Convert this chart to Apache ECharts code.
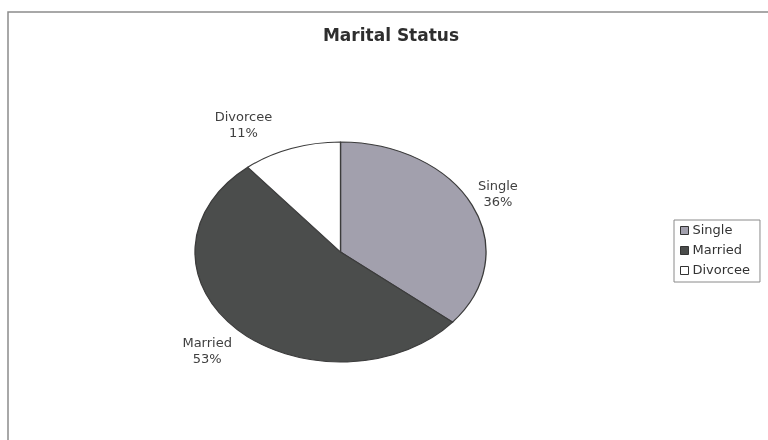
<!DOCTYPE html>
<html>
<head>
<meta charset="utf-8">
<script src="https://cdn.jsdelivr.net/npm/echarts@6/dist/echarts.min.js"></script>
<style>
  html, body { margin: 0; padding: 0; background: #ffffff; }
  #wrap { position: relative; width: 768px; height: 440px; overflow: hidden; background: #ffffff; }
  #pie, #overlay { position: absolute; left: 0; top: 0; width: 768px; height: 440px; }
  /* the pie is drawn as a circle and widened into an ellipse */
  #pie { transform: scaleX(1.3227); transform-origin: 340.5px 0; }
</style>
</head>
<body>
<div id="wrap">
  <div id="pie"></div>
  <div id="overlay"></div>
</div>
<script>
// Marital status shares (%)
const categories = ['Single', 'Married', 'Divorcee'];
const shares = [36, 53, 11];
const sliceColors = ['#a2a0ad', '#4b4d4c', '#ffffff'];

// geometry of the (stretched) pie
const CX = 340.5, CY = 252, R = 110, SX = 1.3227;
const LABEL_R = 134;
const labelNudgeX = [-3, -8, -37];
const labelNudgeY = [0, 5, 0];

const FONT = 'DejaVu Sans';

function seriesData() {
  return categories.map((name, i) => ({ name: name, value: shares[i] }));
}

// bottom layer: the slices
const pieChart = echarts.init(document.getElementById('pie'), null, { renderer: 'svg' });
pieChart.setOption({
  animation: false,
  color: sliceColors,
  series: [{
    type: 'pie',
    center: [CX, CY],
    radius: R,
    startAngle: 90,
    clockwise: true,
    silent: true,
    label: { show: false },
    labelLine: { show: false },
    itemStyle: { borderColor: '#3c3c3c', borderWidth: 1 },
    data: seriesData()
  }]
});

// top layer: frame, title, legend and slice labels
const total = shares.reduce((a, b) => a + b, 0);
function midAngle(i) {
  let cum = 0;
  for (let k = 0; k < i; k++) cum += shares[k];
  return (cum + shares[i] / 2) / total * Math.PI * 2;
}

const overlay = echarts.init(document.getElementById('overlay'));
overlay.setOption({
  animation: false,
  backgroundColor: 'transparent',
  graphic: [{
    type: 'rect',
    shape: { x: 8, y: 12, width: 800, height: 460 },
    style: { fill: 'none', stroke: '#8c8c8c', lineWidth: 1.5 },
    silent: true
  }],
  title: {
    text: 'Marital Status',
    left: 391,
    top: 28,
    padding: 0,
    textAlign: 'center',
    textStyle: { fontFamily: FONT, fontSize: 17, fontWeight: 'bold', color: '#2e2e2e' }
  },
  legend: {
    orient: 'vertical',
    left: 674,
    top: 220,
    padding: [4, 10, 5, 6],
    itemWidth: 8,
    itemHeight: 8,
    itemGap: 7,
    icon: 'rect',
    borderColor: '#8a8a8a',
    borderWidth: 1,
    textStyle: { fontFamily: FONT, fontSize: 13, color: '#333333', padding: [0, 0, 0, -1] },
    data: categories.map((name, i) => ({
      name: name,
      itemStyle: { color: sliceColors[i], borderColor: '#333333', borderWidth: 1, opacity: 1 }
    }))
  },
  series: [{
    type: 'pie',
    center: [CX, CY],
    radius: R,
    startAngle: 90,
    clockwise: true,
    silent: true,
    avoidLabelOverlap: false,
    itemStyle: { color: 'rgba(0,0,0,0)', borderWidth: 0 },
    emphasis: { disabled: true },
    label: {
      show: true,
      position: 'outside',
      formatter: '{b}\n{d}%',
      fontFamily: FONT,
      fontSize: 13,
      lineHeight: 16,
      color: '#404040'
    },
    labelLine: { show: false },
    labelLayout: function (p) {
      const a = midAngle(p.dataIndex);
      return {
        x: CX + SX * LABEL_R * Math.sin(a) + labelNudgeX[p.dataIndex],
        y: CY - LABEL_R * Math.cos(a) + labelNudgeY[p.dataIndex],
        align: 'center',
        verticalAlign: 'middle'
      };
    },
    data: seriesData()
  }]
});
</script>
</body>
</html>
